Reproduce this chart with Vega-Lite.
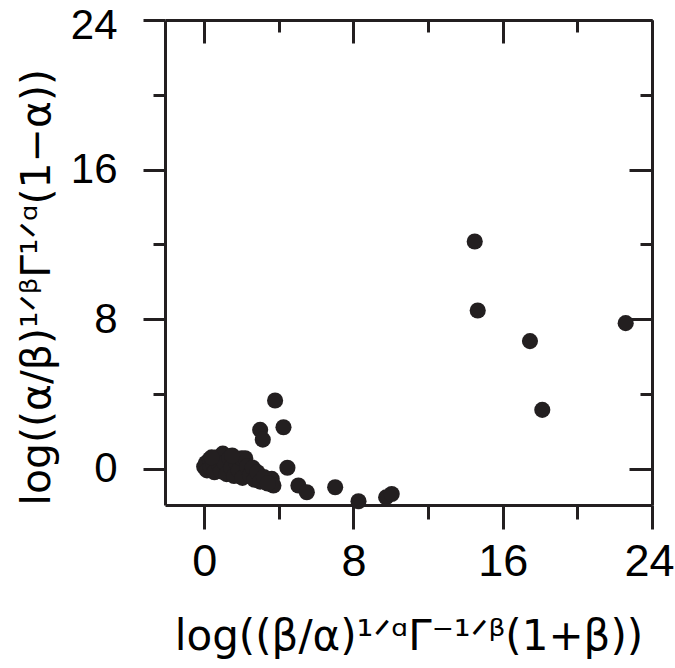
{
  "$schema": "https://vega.github.io/schema/vega-lite/v6.json",
  "width": 487,
  "height": 485,
  "autosize": {"type": "none"},
  "padding": {"left": 165, "top": 20, "right": 23, "bottom": 163},
  "background": "white",
  "config": {
    "view": {"stroke": null},
    "axis": {
      "labelFont": "Liberation Sans",
      "titleFont": "DejaVu Sans",
      "labelColor": "#000000",
      "titleColor": "#000000",
      "domainColor": "#231f20",
      "tickColor": "#231f20",
      "domainWidth": 3,
      "tickWidth": 3,
      "grid": false,
      "labelFontWeight": "normal",
      "titleFontWeight": "normal"
    }
  },
  "data": {
    "values": [
      {"a": 14.5, "b": 12.15},
      {"a": 14.66, "b": 8.46},
      {"a": 17.46, "b": 6.82},
      {"a": 18.12, "b": 3.14},
      {"a": 22.59, "b": 7.78},
      {"a": 3.8, "b": 3.64},
      {"a": 4.25, "b": 2.21},
      {"a": 3.0, "b": 2.07},
      {"a": 3.14, "b": 1.55},
      {"a": 4.46, "b": 0.04},
      {"a": 5.05, "b": -0.91},
      {"a": 5.5, "b": -1.27},
      {"a": 7.02, "b": -1.0},
      {"a": 8.27, "b": -1.75},
      {"a": 9.75, "b": -1.54},
      {"a": 10.05, "b": -1.36},
      {"a": 3.62, "b": -0.55},
      {"a": 3.71, "b": -0.91},
      {"a": 0.0, "b": 0.1},
      {"a": 0.1, "b": 0.3},
      {"a": 0.15, "b": -0.1},
      {"a": 0.3, "b": 0.5},
      {"a": 0.35, "b": 0.05},
      {"a": 0.5, "b": 0.25},
      {"a": 0.55, "b": -0.2},
      {"a": 0.7, "b": 0.6},
      {"a": 0.8, "b": 0.2},
      {"a": 0.9, "b": -0.15},
      {"a": 1.0, "b": 0.8},
      {"a": 1.1, "b": 0.3},
      {"a": 1.2, "b": -0.3},
      {"a": 1.35, "b": 0.55},
      {"a": 1.45, "b": 0.05},
      {"a": 1.6, "b": -0.4},
      {"a": 1.7, "b": 0.35},
      {"a": 1.85, "b": -0.1},
      {"a": 2.0, "b": 0.55},
      {"a": 2.05, "b": -0.5},
      {"a": 2.2, "b": 0.55},
      {"a": 2.3, "b": 0.1},
      {"a": 2.45, "b": -0.35},
      {"a": 2.6, "b": 0.05},
      {"a": 2.7, "b": -0.6},
      {"a": 2.85, "b": -0.2},
      {"a": 3.0, "b": -0.7},
      {"a": 3.2, "b": -0.45},
      {"a": 3.4, "b": -0.8},
      {"a": 1.5, "b": 0.7},
      {"a": 0.4, "b": 0.6}
    ]
  },
  "layer": [
    {
      "mark": {"type": "point", "filled": true, "shape": "circle", "size": 260, "opacity": 1, "color": "#231f20", "strokeWidth": 0},
      "encoding": {
        "x": {
          "field": "a", "type": "quantitative",
          "scale": {"domain": [-2.1, 24], "nice": false, "zero": false},
          "axis": {
            "orient": "bottom",
            "values": [0, 4, 8, 12, 16, 20, 24],
            "labelExpr": "datum.value % 8 === 0 ? datum.label : ''",
            "tickSize": {"condition": {"test": "datum.value % 8 === 0", "value": 24}, "value": 14},
            "labelFontSize": 45,
            "labelPadding": 10,
            "labelBaseline": "top",
            "labelFlush": true,
            "labelFlushOffset": 22,
            "title": "log((β/α)¹ᐟᵅΓ⁻¹ᐟᵝ(1+β))",
            "titleFontSize": 42,
            "titlePadding": 32
          }
        },
        "y": {
          "field": "b", "type": "quantitative",
          "scale": {"domain": [-1.95, 24], "nice": false, "zero": false},
          "axis": {
            "orient": "left",
            "values": [0, 4, 8, 12, 16, 20, 24],
            "labelExpr": "datum.value % 8 === 0 ? datum.label : ''",
            "tickSize": {"condition": {"test": "datum.value % 8 === 0", "value": 22}, "value": 12},
            "labelFontSize": 42,
            "labelPadding": 26,
            "labelFlush": true,
            "labelFlushOffset": 15,
            "title": "log((α/β)¹ᐟᵝΓ¹ᐟᵅ(1−α))",
            "titleFontSize": 41,
            "titleAnchor": "start",
            "titlePadding": 12
          }
        }
      }
    },
    {
      "mark": {"type": "point", "opacity": 0},
      "encoding": {
        "x": {
          "field": "a", "type": "quantitative",
          "scale": {"domain": [-2.1, 24], "nice": false, "zero": false},
          "axis": {
            "orient": "top",
            "values": [0, 4, 8, 12, 16, 20, 24],
            "labels": false,
            "title": null,
            "tickSize": {"condition": {"test": "datum.value % 8 === 0", "value": -23}, "value": -12}
          }
        },
        "y": {
          "field": "b", "type": "quantitative",
          "scale": {"domain": [-1.95, 24], "nice": false, "zero": false},
          "axis": {
            "orient": "right",
            "values": [0, 4, 8, 12, 16, 20, 24],
            "labels": false,
            "title": null,
            "tickSize": {"condition": {"test": "datum.value % 8 === 0", "value": -23}, "value": -12}
          }
        }
      }
    }
  ],
  "resolve": {"axis": {"x": "independent", "y": "independent"}}
}
